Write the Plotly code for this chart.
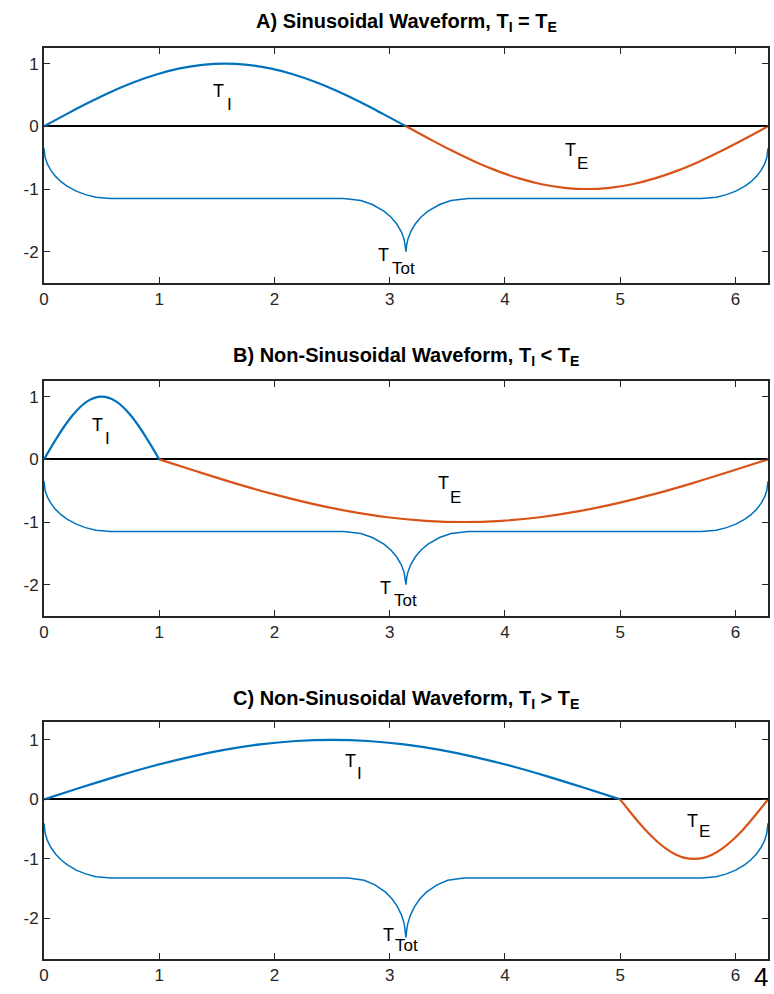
import plotly.graph_objects as go

# ---------------- data ----------------
# Panel A
a_ti_t = [0, 0.196, 0.393, 0.589, 0.785, 0.982, 1.178, 1.374, 1.571, 1.767, 1.963, 2.160, 2.356, 2.553, 2.749, 2.945, 3.142]
a_ti_y = [0, 0.195, 0.383, 0.556, 0.707, 0.831, 0.924, 0.981, 1.0, 0.981, 0.924, 0.831, 0.707, 0.556, 0.383, 0.195, 0]
a_te_t = [3.142, 3.338, 3.534, 3.731, 3.927, 4.123, 4.320, 4.516, 4.712, 4.909, 5.105, 5.301, 5.498, 5.694, 5.890, 6.087, 6.283]
a_te_y = [0, -0.195, -0.383, -0.556, -0.707, -0.831, -0.924, -0.981, -1.0, -0.981, -0.924, -0.831, -0.707, -0.556, -0.383, -0.195, 0]

# Panel B
b_ti_t = [0, 0.0625, 0.125, 0.1875, 0.25, 0.3125, 0.375, 0.4375, 0.5, 0.5625, 0.625, 0.6875, 0.75, 0.8125, 0.875, 0.9375, 1.0]
b_ti_y = [0, 0.195, 0.383, 0.556, 0.707, 0.831, 0.924, 0.981, 1.0, 0.981, 0.924, 0.831, 0.707, 0.556, 0.383, 0.195, 0]
b_te_t = [1.0, 1.330, 1.660, 1.991, 2.321, 2.651, 2.981, 3.311, 3.642, 3.972, 4.302, 4.632, 4.962, 5.293, 5.623, 5.953, 6.283]
b_te_y = [0, -0.195, -0.383, -0.556, -0.707, -0.831, -0.924, -0.981, -1.0, -0.981, -0.924, -0.831, -0.707, -0.556, -0.383, -0.195, 0]

# Panel C
c_ti_t = [0, 0.3125, 0.625, 0.9375, 1.25, 1.5625, 1.875, 2.1875, 2.5, 2.8125, 3.125, 3.4375, 3.75, 4.0625, 4.375, 4.6875, 5.0]
c_ti_y = [0, 0.195, 0.383, 0.556, 0.707, 0.831, 0.924, 0.981, 1.0, 0.981, 0.924, 0.831, 0.707, 0.556, 0.383, 0.195, 0]
c_te_t = [5.0, 5.080, 5.160, 5.241, 5.321, 5.401, 5.481, 5.561, 5.642, 5.722, 5.802, 5.882, 5.962, 6.043, 6.123, 6.203, 6.283]
c_te_y = [0, -0.195, -0.383, -0.556, -0.707, -0.831, -0.924, -0.981, -1.0, -0.981, -0.924, -0.831, -0.707, -0.556, -0.383, -0.195, 0]

# Total curve (panels A and B share the same shape)
ab_tot_t = [0, 0.01, 0.03, 0.06, 0.10, 0.15, 0.20, 0.28, 0.36, 0.45, 0.58,
            2.60, 2.75, 2.85, 2.95, 3.01, 3.06, 3.10, 3.125, 3.136, 3.1416,
            3.147, 3.158, 3.183, 3.223, 3.273, 3.333, 3.433, 3.533, 3.683,
            5.703, 5.833, 5.923, 6.003, 6.083, 6.133, 6.183, 6.223, 6.253, 6.273, 6.283]
ab_tot_y = [-0.35, -0.498, -0.604, -0.704, -0.799, -0.887, -0.954, -1.035, -1.090, -1.130, -1.15,
            -1.15, -1.183, -1.247, -1.353, -1.447, -1.555, -1.679, -1.801, -1.897, -2.0,
            -1.897, -1.801, -1.679, -1.555, -1.447, -1.353, -1.247, -1.183, -1.15,
            -1.15, -1.130, -1.090, -1.035, -0.954, -0.887, -0.799, -0.704, -0.604, -0.498, -0.35]

c_tot_t = [0, 0.01, 0.03, 0.06, 0.10, 0.15, 0.20, 0.28, 0.36, 0.45, 0.58,
           2.64, 2.779, 2.872, 2.964, 3.020, 3.066, 3.103, 3.126, 3.136, 3.1416,
           3.147, 3.157, 3.180, 3.217, 3.263, 3.319, 3.411, 3.504, 3.643,
           5.703, 5.833, 5.923, 6.003, 6.083, 6.133, 6.183, 6.223, 6.253, 6.273, 6.283]
c_tot_y = [-0.40, -0.570, -0.692, -0.808, -0.916, -1.017, -1.095, -1.187, -1.251, -1.297, -1.32,
           -1.32, -1.359, -1.434, -1.558, -1.669, -1.796, -1.942, -2.086, -2.198, -2.32,
           -2.198, -2.086, -1.942, -1.796, -1.669, -1.558, -1.434, -1.359, -1.32,
           -1.32, -1.297, -1.251, -1.187, -1.095, -1.017, -0.916, -0.808, -0.692, -0.570, -0.40]

x_ticks = [0, 1, 2, 3, 4, 5, 6]
x_ticktext = ["0", "1", "2", "3", "4", "5", "6"]
y_ticks = [-2, -1, 0, 1]
y_ticktext = ["-2", "-1", "0", "1"]

titles = ["A) Sinusoidal Waveform, T<sub>I</sub> = T<sub>E</sub>",
          "B) Non-Sinusoidal Waveform, T<sub>I</sub> < T<sub>E</sub>",
          "C) Non-Sinusoidal Waveform, T<sub>I</sub> > T<sub>E</sub>"]

# curve labels: main letter, subscript, (x, y) of letter, (x, y) of subscript
sub_texts = ["I", "E", "Tot"]
lab_main = [
    [(1.45, 0.563), (4.505, -0.378), (2.883, -2.054)],
    [(0.40, 0.547), (3.403, -0.381), (2.900, -2.054)],
    [(2.596, 0.645), (5.564, -0.363), (2.926, -2.275)],
]
lab_sub = [
    [(1.575, 0.356), (4.605, -0.586), (3.007, -2.261)],
    [(0.508, 0.340), (3.510, -0.604), (3.024, -2.245)],
    [(2.703, 0.427), (5.671, -0.547), (3.033, -2.460)],
]

# ---------------- figure ----------------
BLUE = "#0072BD"
ORANGE = "#D95319"
FONT = "Liberation Sans, Arial, sans-serif"
AXC = "#262626"

W, H = 774, 994
panels = [
    dict(ti=(a_ti_t, a_ti_y), te=(a_te_t, a_te_y), tot=(ab_tot_t, ab_tot_y), top=48, bot=283, yr=[-2.5, 1.25], title_y=23),
    dict(ti=(b_ti_t, b_ti_y), te=(b_te_t, b_te_y), tot=(ab_tot_t, ab_tot_y), top=381, bot=616, yr=[-2.5, 1.25], title_y=357),
    dict(ti=(c_ti_t, c_ti_y), te=(c_te_t, c_te_y), tot=(c_tot_t, c_tot_y), top=722, bot=959, yr=[-2.68, 1.30], title_y=699),
]

fig = go.Figure()
annotations = []
layout = {}
for i, p in enumerate(panels):
    n = "" if i == 0 else str(i + 1)
    xa, ya = "x" + n, "y" + n
    fig.add_trace(go.Scatter(x=p["tot"][0], y=p["tot"][1], mode="lines",
                             line=dict(color=BLUE, width=1.5), xaxis=xa, yaxis=ya, showlegend=False))
    fig.add_trace(go.Scatter(x=p["te"][0], y=p["te"][1], mode="lines", line_shape="spline",
                             line=dict(color=ORANGE, width=2.2), xaxis=xa, yaxis=ya, showlegend=False))
    fig.add_trace(go.Scatter(x=p["ti"][0], y=p["ti"][1], mode="lines", line_shape="spline",
                             line=dict(color=BLUE, width=2.2), xaxis=xa, yaxis=ya, showlegend=False))
    dom = [1 - p["bot"] / H, 1 - p["top"] / H]
    layout["xaxis" + n] = dict(range=[0, 6.2832], tickvals=x_ticks, ticktext=x_ticktext,
                               ticks="inside", ticklen=6, tickwidth=1.3,
                               tickcolor=AXC, showline=True, mirror="ticks", linecolor=AXC,
                               linewidth=2, showgrid=False, zeroline=False, anchor=ya,
                               tickfont=dict(size=17, color=AXC, family=FONT))
    layout["yaxis" + n] = dict(range=p["yr"], domain=dom, tickvals=y_ticks, ticktext=y_ticktext,
                               ticks="inside", ticklen=6, tickwidth=1.3,
                               tickcolor=AXC, showline=True, mirror="ticks", linecolor=AXC,
                               linewidth=2, showgrid=False, zeroline=True, zerolinecolor="black",
                               zerolinewidth=2, anchor=xa,
                               tickfont=dict(size=17, color=AXC, family=FONT))
    annotations.append(dict(text="<b>" + titles[i] + "</b>", x=0.5, xref="paper",
                            y=1 - p["title_y"] / H, yref="paper", showarrow=False,
                            xanchor="center", yanchor="middle",
                            font=dict(size=20, color="black", family=FONT)))
    for k in range(3):
        mx, my = lab_main[i][k]
        sx, sy = lab_sub[i][k]
        annotations.append(dict(text="T", x=mx, y=my, xref=xa, yref=ya, showarrow=False,
                                xanchor="left", yanchor="middle",
                                font=dict(size=18, color="black", family=FONT)))
        annotations.append(dict(text=sub_texts[k], x=sx, y=sy, xref=xa, yref=ya, showarrow=False,
                                xanchor="left", yanchor="middle",
                                font=dict(size=17, color="black", family=FONT)))

annotations.append(dict(text="4", x=1.003, y=0, xref="paper", yref="paper",
                        showarrow=False, xanchor="right", yanchor="bottom",
                        font=dict(size=26, color="black", family=FONT)))

fig.update_layout(width=W, height=H, margin=dict(l=44, r=6, t=0, b=0),
                  plot_bgcolor="white", paper_bgcolor="white",
                  annotations=annotations, **layout)
fig.write_html("out.html")
